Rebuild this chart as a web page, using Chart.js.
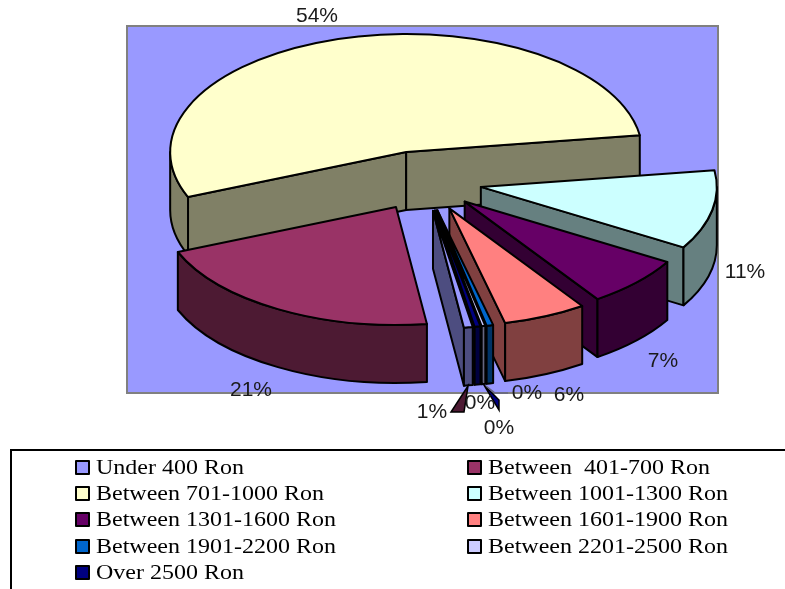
<!DOCTYPE html>
<html>
<head>
<meta charset="utf-8">
<title>Ron pie</title>
<script src="https://cdn.jsdelivr.net/npm/chart.js@4"></script>
<style>
  html, body { margin: 0; padding: 0; background: #fff; overflow: hidden; }
  #wrap { position: relative; width: 785px; height: 589px; overflow: hidden; }
  canvas { position: absolute; left: 0; top: 0; }
  #legend {
    position: absolute; left: 10px; top: 449px; width: 800px; height: 160px;
    box-sizing: border-box; border: 2px solid #000;
    font: 21px/26.2px "Liberation Serif", serif; color: #000;
  }
  .item { position: absolute; white-space: pre; }
  .swatch {
    position: absolute; left: 0; top: 6px; width: 11px; height: 11px;
    border: 2px solid #000; border-radius: 1px;
  }
  .item span { position: absolute; left: 21px; transform: scaleX(1.143); transform-origin: left center; }
</style>
</head>
<body>
<div id="wrap">
  <canvas id="pieChart" width="785" height="589"></canvas>
  <div id="legend"></div>
</div>
<script>
const categories = [
  "Under 400 Ron", "Between  401-700 Ron", "Between 701-1000 Ron",
  "Between 1001-1300 Ron", "Between 1301-1600 Ron", "Between 1601-1900 Ron",
  "Between 1901-2200 Ron", "Between 2201-2500 Ron", "Over 2500 Ron"
];
const shares = [0.6, 20.8, 53.8, 10.8, 6.9, 5.7, 0.45, 0.25, 0.4];
const colors = [
  "#9999FF", "#993366", "#FFFFCC", "#CCFFFF", "#660066",
  "#FF8080", "#0066CC", "#CCCCFF", "#000080"
];

// look of the fake 3D pie
const SQUASH = 0.5;
const DEPTH = 58;
const EXPLODE = 60;

// small sideways shift per slice, the original has some perspective
const nudgeX = [2, 4, 0, 0, -1, 3, 2, 2, 2];

// label spots, same order as categories
const labelSpots = [
  [432, 412], [251, 390], [317, 16], [745, 272], [663, 361],
  [569, 395], [527, 393], [499, 428], [480, 403]
];

// walls are the top colour at half brightness
function wallColor(hex) {
  const n = parseInt(hex.slice(1), 16);
  const half = (v) => Math.round(v / 2);
  return "rgb(" + half(n >> 16) + "," + half((n >> 8) & 255) + "," + half(n & 255) + ")";
}

function outline(ctx, fill) {
  ctx.closePath();
  if (fill) {
    ctx.fillStyle = fill;
    ctx.fill();
  }
  ctx.stroke();
}

function drawSlice(ctx, arc, color, nudge) {
  const TAU = Math.PI * 2;
  const start = ((arc.startAngle % TAU) + TAU) % TAU;
  const end = start + arc.circumference;
  const mid = (start + end) / 2;
  const r = arc.outerRadius;
  const x = arc.x + Math.cos(mid) * EXPLODE + nudge;
  const y = arc.y + Math.sin(mid) * EXPLODE * SQUASH;
  const wall = wallColor(color);

  ctx.lineWidth = 2;
  ctx.strokeStyle = "#000";
  ctx.lineJoin = "round";

  // flat cut faces, only those turned to the viewer
  [[start, Math.cos(start) < 0], [end, Math.cos(end) > 0]].forEach(([a, visible]) => {
    if (!visible) return;
    const rimX = x + Math.cos(a) * r;
    const rimY = y + Math.sin(a) * r * SQUASH;
    ctx.beginPath();
    ctx.moveTo(x, y);
    ctx.lineTo(rimX, rimY);
    ctx.lineTo(rimX, rimY + DEPTH);
    ctx.lineTo(x, y + DEPTH);
    outline(ctx, wall);
  });

  // curved wall, front half of the rim only
  [[0, Math.PI], [TAU, TAU + Math.PI]].forEach(([lo, hi]) => {
    const a0 = Math.max(start, lo);
    const a1 = Math.min(end, hi);
    if (a1 <= a0) return;
    ctx.beginPath();
    ctx.ellipse(x, y, r, r * SQUASH, 0, a0, a1);
    ctx.ellipse(x, y + DEPTH, r, r * SQUASH, 0, a1, a0, true);
    outline(ctx, wall);
  });

  // top face comes from the chart's own arc element
  ctx.save();
  ctx.translate(x, y);
  ctx.scale(1, SQUASH);
  ctx.translate(-arc.x, -arc.y);
  arc.draw(ctx);
  ctx.restore();

  ctx.beginPath();
  ctx.moveTo(x, y);
  ctx.ellipse(x, y, r, r * SQUASH, 0, start, end);
  outline(ctx);
}

const pie3d = {
  id: "pie3d",
  beforeDraw(chart) {
    const ctx = chart.ctx;
    ctx.save();
    ctx.fillStyle = "#9999FF";
    ctx.strokeStyle = "#808080";
    ctx.lineWidth = 2;
    ctx.fillRect(127, 26, 591, 367);
    ctx.strokeRect(127, 26, 591, 367);
    ctx.restore();
  },
  beforeDatasetsDraw(chart) {
    const ctx = chart.ctx;
    const arcs = chart.getDatasetMeta(0).data;
    const depthOf = (arc) => Math.sin((arc.startAngle + arc.endAngle) / 2);
    const order = arcs.map((arc, i) => i).sort((a, b) => depthOf(arcs[a]) - depthOf(arcs[b]));
    ctx.save();
    order.forEach((i) => drawSlice(ctx, arcs[i], colors[i], nudgeX[i]));
    ctx.restore();
    return false;
  },
  afterDraw(chart) {
    const ctx = chart.ctx;
    const total = shares.reduce((a, b) => a + b, 0);

    // the little filled leader marks under the chart
    ctx.save();
    ctx.lineWidth = 1.5;
    ctx.strokeStyle = "#000";
    ctx.beginPath();
    ctx.moveTo(468, 386);
    ctx.lineTo(451, 412);
    ctx.lineTo(464, 412);
    outline(ctx, wallColor(colors[1]));
    ctx.beginPath();
    ctx.moveTo(484, 385);
    ctx.lineTo(499, 400);
    ctx.lineTo(499, 410);
    outline(ctx, colors[8]);
    ctx.beginPath();
    ctx.moveTo(486, 386);
    ctx.lineTo(495, 393);
    ctx.lineTo(508, 393);
    ctx.strokeStyle = "#666680";
    ctx.stroke();

    ctx.font = '21px "Liberation Sans", sans-serif';
    ctx.fillStyle = "#1a1a1a";
    ctx.textAlign = "center";
    ctx.textBaseline = "middle";
    shares.forEach((v, i) => {
      const text = Math.round(v / total * 100) + "%";
      ctx.fillText(text, labelSpots[i][0], labelSpots[i][1]);
    });
    ctx.restore();
  }
};

new Chart(document.getElementById("pieChart"), {
  type: "pie",
  data: {
    labels: categories,
    datasets: [{ data: shares, backgroundColor: colors, borderWidth: 0 }]
  },
  options: {
    responsive: false,
    animation: false,
    rotation: 170.3,
    radius: 236,
    layout: { padding: { left: 59, right: 0, top: 0, bottom: 227 } },
    plugins: { legend: { display: false }, tooltip: { enabled: false } }
  },
  plugins: [pie3d]
});

// Legend box, two columns like the original
const legend = document.getElementById("legend");
categories.forEach((name, i) => {
  const item = document.createElement("div");
  item.className = "item";
  item.style.left = (i % 2 ? 455 : 63) + "px";
  item.style.top = (3 + Math.floor(i / 2) * 26.2) + "px";
  const box = document.createElement("div");
  box.className = "swatch";
  box.style.background = colors[i];
  const text = document.createElement("span");
  text.textContent = name;
  item.appendChild(box);
  item.appendChild(text);
  legend.appendChild(item);
});
</script>
</body>
</html>
